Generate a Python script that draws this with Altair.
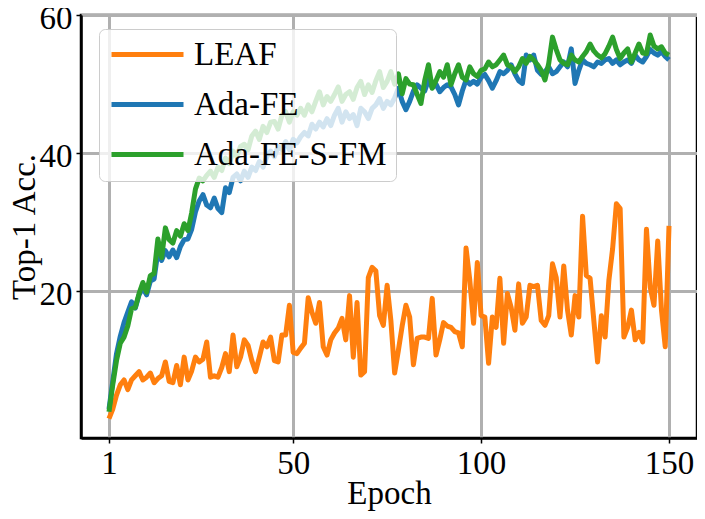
import altair as alt
import pandas as pd

epochs = list(range(1, 151))

leaf = [1.6, 3.0, 5.0, 6.5, 7.2, 5.8, 7.2, 7.8, 8.4, 7.2,
        7.6, 8.2, 6.8, 7.4, 7.8, 9.8, 7.0, 6.8, 9.3, 6.5,
        10.5, 7.2, 8.5, 10.5, 9.8, 10.2, 12.7, 7.6, 7.8, 7.6,
        9.0, 11.0, 8.4, 13.7, 9.1, 10.5, 13.0, 12.2, 10.0, 8.4,
        10.5, 12.7, 12.0, 13.4, 10.0, 9.8, 13.7, 13.7, 18.0, 11.2,
        11.0, 11.8, 12.5, 19.1, 17.0, 15.4, 18.4, 12.0, 10.8, 13.0,
        14.0, 14.7, 16.1, 13.0, 19.4, 10.5, 18.4, 7.9, 8.4, 22.0,
        23.5, 23.0, 16.5, 15.1, 20.9, 15.8, 8.2, 11.5, 15.0, 18.0,
        16.3, 9.4, 13.2, 13.4, 13.4, 13.2, 19.0, 10.8, 13.0, 15.5,
        15.0, 14.8, 14.2, 14.0, 12.0, 26.3, 21.6, 15.4, 24.2, 16.5,
        16.3, 9.6, 16.3, 14.8, 21.9, 12.5, 19.7, 17.7, 14.4, 21.1,
        15.4, 16.3, 20.9, 20.7, 20.9, 15.8, 15.1, 16.5, 24.0, 22.0,
        16.3, 23.7, 17.3, 13.7, 19.4, 16.3, 30.9, 22.3, 21.9, 15.8,
        9.8, 16.5, 13.4, 21.6, 26.2, 32.7, 32.0, 13.4, 14.8, 17.3,
        13.0, 14.1, 12.7, 29.0, 20.6, 18.0, 27.3, 17.3, 12.0, 29.5]

ada_fe = [3.0, 7.0, 11.0, 13.5, 15.5, 17.0, 18.5, 17.6, 19.5, 20.5,
          19.5, 21.5, 21.8, 25.7, 24.5, 25.9, 25.0, 26.0, 24.9, 26.5,
          27.5, 27.6, 29.0, 31.5, 33.1, 34.0, 32.5, 32.1, 33.5, 32.0,
          31.4, 35.0, 34.3, 36.5, 37.0, 36.0, 37.4, 36.5, 38.0, 37.5,
          38.8, 38.0, 39.5, 40.3, 39.5, 41.0, 40.5, 41.7, 40.5, 42.0,
          41.5, 42.4, 43.0, 42.5, 44.2, 43.5, 44.5, 43.8, 45.0, 44.0,
          45.5, 46.5, 44.5, 46.0, 45.0, 45.6, 44.0, 46.5, 46.0, 45.0,
          46.5, 47.0, 47.9, 46.5, 47.5, 47.0, 48.0, 49.4, 47.5, 46.3,
          47.5, 49.0, 49.9, 49.4, 49.0, 50.6, 49.5, 50.0, 48.9, 49.5,
          49.9, 49.6, 48.5, 47.0, 49.0, 50.6, 50.0, 50.4, 50.0, 51.0,
          51.4, 50.5, 49.4, 50.5, 51.8, 51.5, 52.0, 52.8, 51.5, 50.5,
          50.1, 54.2, 53.5, 54.2, 52.0, 51.4, 51.8, 52.5, 51.5, 51.8,
          52.5, 53.2, 52.5, 55.1, 50.1, 52.0, 53.5, 53.0, 52.8, 52.5,
          53.2, 53.0, 53.5, 53.7, 53.0, 53.5, 52.8, 53.2, 53.5, 53.0,
          54.2, 53.5, 53.2, 54.0, 55.0, 54.5, 54.2, 54.7, 54.0, 53.5]

ada_fe_s_fm = [2.6, 6.5, 10.0, 12.5, 13.4, 15.0, 17.5, 17.7, 19.7, 21.3,
               19.9, 22.3, 22.6, 27.6, 24.9, 29.2, 27.5, 27.0, 28.8, 28.0,
               29.8, 28.8, 31.4, 34.8, 36.4, 36.0, 36.8, 37.4, 36.5, 38.0,
               37.5, 39.3, 38.5, 40.3, 39.5, 41.0, 41.3, 40.5, 42.5, 43.2,
               42.0, 43.9, 43.0, 44.5, 44.6, 43.5, 45.5, 46.0, 44.5, 46.0,
               45.5, 46.5, 45.5, 47.0, 46.0, 47.5, 48.9, 47.0, 48.2, 47.5,
               48.5, 49.6, 47.5, 48.5, 48.9, 47.8, 49.5, 50.4, 48.5, 49.9,
               48.8, 50.5, 51.8, 49.5, 50.4, 51.8, 50.0, 51.5, 48.6, 50.8,
               50.0, 49.9, 48.5, 47.2, 50.5, 52.8, 49.4, 50.5, 51.8, 51.0,
               52.8, 49.9, 51.5, 52.8, 51.0, 50.6, 52.5, 51.5, 51.1, 52.0,
               52.2, 53.2, 52.5, 52.8, 53.5, 54.2, 52.8, 52.5, 51.8, 52.5,
               53.7, 53.0, 54.0, 53.5, 52.8, 52.0, 50.6, 53.0, 56.8, 55.0,
               53.5, 53.0, 52.8, 54.2, 53.5, 53.2, 54.0, 54.7, 55.8, 54.8,
               54.2, 53.8, 54.4, 55.5, 56.8, 55.0, 53.7, 54.5, 55.1, 53.2,
               54.5, 55.8, 54.5, 54.4, 57.1, 55.5, 55.1, 55.4, 54.5, 54.2]

series_names = ["LEAF", "Ada-FE", "Ada-FE-S-FM"]
series_colors = ["#ff7f0e", "#1f77b4", "#2ca02c"]
x_ticks = [1, 50, 100, 150]
y_ticks = [20, 40, 60]

rows = []
for name, vals in zip(series_names, [leaf, ada_fe, ada_fe_s_fm]):
    for e, v in zip(epochs, vals):
        rows.append({"Epoch": e, "Acc": v, "series": name})
df = pd.DataFrame(rows)

FONT = "Liberation Serif"

color = alt.Color(
    "series:N",
    scale=alt.Scale(domain=series_names, range=series_colors),
    sort=series_names,
    legend=alt.Legend(
        title=None, orient="none", legendX=18, legendY=14,
        symbolType="M-2.667,0H2.667", symbolSize=729, symbolStrokeWidth=5,
        symbolOffset=23, labelOffset=30,
        labelFont=FONT, labelFontSize=33, labelColor="black", labelLimit=400,
        fillColor="rgba(255,255,255,0.8)", strokeColor="#cccccc",
        cornerRadius=6, padding=9, rowPadding=16,
    ),
)

x = alt.X("Epoch:Q", title="Epoch",
          scale=alt.Scale(domain=[-6.45, 157.45], nice=False, zero=False),
          axis=alt.Axis(values=x_ticks, titlePadding=-3))
y = alt.Y("Acc:Q", title="Top-1 Acc.",
          scale=alt.Scale(domain=[-1.2, 60], nice=False, zero=False),
          axis=alt.Axis(values=y_ticks, titlePadding=-2, labelOffset=3))

layers = []
for name in series_names:
    layers.append(
        alt.Chart(df).transform_filter(alt.datum.series == name)
        .mark_line(strokeWidth=5, strokeJoin="round")
        .encode(x=x, y=y, color=color)
    )

chart = (
    alt.layer(*layers)
    .properties(width=616, height=423,
                padding={"left": 73, "top": 7, "right": 0, "bottom": 73},
                autosize=alt.AutoSizeParams(type="none"))
    .configure_view(stroke="black", strokeWidth=2.5)
    .configure_axis(
        domainColor="black", domainWidth=2.5,
        tickColor="black", tickSize=5, tickWidth=1.5,
        labelFont=FONT, labelFontSize=33, labelColor="black", labelPadding=4,
        titleFont=FONT, titleFontSize=33, titleFontWeight="normal", titleColor="black",
        gridColor="#b0b0b0", gridWidth=3, gridOpacity=1,
    )
)

chart.save("out.html", embed_options={"renderer": "svg", "actions": False})
